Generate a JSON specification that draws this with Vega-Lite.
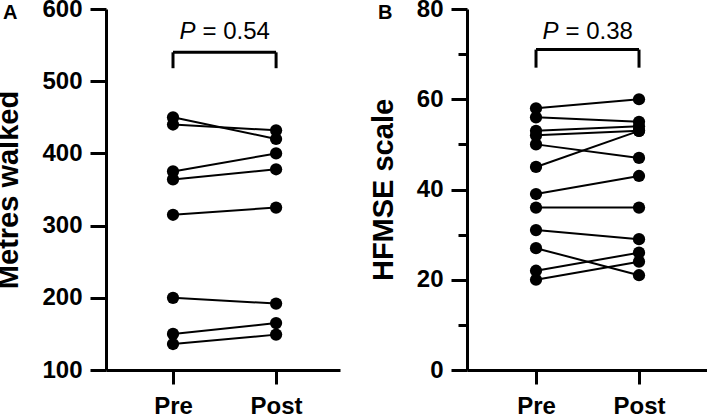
{
  "$schema": "https://vega.github.io/schema/vega-lite/v6.json",
  "padding": {"left": -6, "top": -3, "right": 0, "bottom": 0},
  "spacing": 29,
  "config": {
    "font": "Liberation Sans",
    "view": {"stroke": null},
    "axis": {
      "domainColor": "black",
      "domainWidth": 3,
      "tickColor": "black",
      "tickWidth": 3,
      "grid": false,
      "labelColor": "black",
      "labelFont": "Liberation Sans",
      "labelFontWeight": "bold",
      "labelFontSize": 24,
      "titleFont": "Liberation Sans",
      "titleFontWeight": "bold",
      "titleFontSize": 29,
      "titleColor": "black"
    }
  },
  "datasets": {
    "walk": [
      {"id": 1, "t": 1, "v": 450}, {"id": 1, "t": 2, "v": 420},
      {"id": 2, "t": 1, "v": 440}, {"id": 2, "t": 2, "v": 432},
      {"id": 3, "t": 1, "v": 375}, {"id": 3, "t": 2, "v": 400},
      {"id": 4, "t": 1, "v": 364}, {"id": 4, "t": 2, "v": 378},
      {"id": 5, "t": 1, "v": 315}, {"id": 5, "t": 2, "v": 325},
      {"id": 6, "t": 1, "v": 200}, {"id": 6, "t": 2, "v": 192},
      {"id": 7, "t": 1, "v": 150}, {"id": 7, "t": 2, "v": 165},
      {"id": 8, "t": 1, "v": 136}, {"id": 8, "t": 2, "v": 149}
    ],
    "hfmse": [
      {"id": 1, "t": 1, "v": 58}, {"id": 1, "t": 2, "v": 60},
      {"id": 2, "t": 1, "v": 56}, {"id": 2, "t": 2, "v": 55},
      {"id": 3, "t": 1, "v": 53}, {"id": 3, "t": 2, "v": 54},
      {"id": 4, "t": 1, "v": 52}, {"id": 4, "t": 2, "v": 53},
      {"id": 5, "t": 1, "v": 50}, {"id": 5, "t": 2, "v": 47},
      {"id": 6, "t": 1, "v": 45}, {"id": 6, "t": 2, "v": 53},
      {"id": 7, "t": 1, "v": 39}, {"id": 7, "t": 2, "v": 43},
      {"id": 8, "t": 1, "v": 36}, {"id": 8, "t": 2, "v": 36},
      {"id": 9, "t": 1, "v": 31}, {"id": 9, "t": 2, "v": 29},
      {"id": 10, "t": 1, "v": 27}, {"id": 10, "t": 2, "v": 21},
      {"id": 11, "t": 1, "v": 22}, {"id": 11, "t": 2, "v": 26},
      {"id": 12, "t": 1, "v": 20}, {"id": 12, "t": 2, "v": 24}
    ],
    "annA": [{"x1": 1, "x2": 2, "xm": 1.5, "top": 540, "bot": 518, "ty": 558, "p": "P", "txt": "= 0.54", "lx": 0.35, "ly": 600, "letter": "A"}],
    "annB": [{"x1": 1, "x2": 2, "xm": 1.5, "top": 71, "bot": 67, "ty": 73.4, "p": "P", "txt": "= 0.38", "lx": 0.33, "ly": 80, "letter": "B"}]
  },
  "hconcat": [
    {
      "width": 234,
      "height": 361,
      "layer": [
        {
          "data": {"name": "walk"},
          "mark": {"type": "line", "color": "black", "strokeWidth": 2},
          "encoding": {
            "x": {"field": "t", "type": "quantitative", "scale": {"domain": [0.35, 2.62], "nice": false},
              "axis": {"values": [1, 2], "title": null, "labelExpr": "datum.value == 1 ? 'Pre' : 'Post'", "tickSize": 14, "labelPadding": 10}},
            "y": {"field": "v", "type": "quantitative", "scale": {"domain": [100, 600], "nice": false},
              "axis": {"values": [100, 150, 200, 250, 300, 350, 400, 450, 500, 550, 600],
                "labelExpr": "datum.value % 100 === 0 ? datum.label : ''",
                "tickSize": 16,
                "tickDash": {"condition": {"test": "datum.value % 100 !== 0", "value": [9, 40]}, "value": []},
                "title": "Metres walked", "labelPadding": 8, "titlePadding": 18}},
            "detail": {"field": "id"}
          }
        },
        {
          "data": {"name": "walk"},
          "mark": {"type": "circle", "color": "black", "opacity": 1, "size": 150},
          "encoding": {
            "x": {"field": "t", "type": "quantitative"},
            "y": {"field": "v", "type": "quantitative"}
          }
        },
        {
          "data": {"name": "annA"},
          "mark": {"type": "rule", "color": "black", "strokeWidth": 3},
          "encoding": {
            "x": {"field": "x1", "type": "quantitative"},
            "x2": {"field": "x2"},
            "y": {"field": "top", "type": "quantitative"}
          }
        },
        {
          "data": {"name": "annA"},
          "mark": {"type": "rule", "color": "black", "strokeWidth": 3},
          "encoding": {
            "x": {"field": "x1", "type": "quantitative"},
            "y": {"field": "top", "type": "quantitative"},
            "y2": {"field": "bot"}
          }
        },
        {
          "data": {"name": "annA"},
          "mark": {"type": "rule", "color": "black", "strokeWidth": 3},
          "encoding": {
            "x": {"field": "x2", "type": "quantitative"},
            "y": {"field": "top", "type": "quantitative"},
            "y2": {"field": "bot"}
          }
        },
        {
          "data": {"name": "annA"},
          "mark": {"type": "text", "fontSize": 24, "fontStyle": "italic", "align": "left", "baseline": "alphabetic", "dx": -45, "color": "black"},
          "encoding": {
            "x": {"field": "xm", "type": "quantitative"},
            "y": {"field": "ty", "type": "quantitative"},
            "text": {"field": "p"}
          }
        },
        {
          "data": {"name": "annA"},
          "mark": {"type": "text", "fontSize": 24, "align": "left", "baseline": "alphabetic", "dx": -22, "color": "black"},
          "encoding": {
            "x": {"field": "xm", "type": "quantitative"},
            "y": {"field": "ty", "type": "quantitative"},
            "text": {"field": "txt"}
          }
        },
        {
          "data": {"name": "annA"},
          "mark": {"type": "text", "fontSize": 20, "fontWeight": "bold", "align": "left", "baseline": "alphabetic", "dx": -103, "dy": 10, "color": "black"},
          "encoding": {
            "x": {"field": "lx", "type": "quantitative"},
            "y": {"field": "ly", "type": "quantitative"},
            "text": {"field": "letter"}
          }
        }
      ]
    },
    {
      "width": 240,
      "height": 361,
      "layer": [
        {
          "data": {"name": "hfmse"},
          "mark": {"type": "line", "color": "black", "strokeWidth": 2},
          "encoding": {
            "x": {"field": "t", "type": "quantitative", "scale": {"domain": [0.33, 2.66], "nice": false},
              "axis": {"values": [1, 2], "title": null, "labelExpr": "datum.value == 1 ? 'Pre' : 'Post'", "tickSize": 14, "labelPadding": 10}},
            "y": {"field": "v", "type": "quantitative", "scale": {"domain": [0, 80], "nice": false},
              "axis": {"values": [0, 10, 20, 30, 40, 50, 60, 70, 80],
                "labelExpr": "datum.value % 20 === 0 ? datum.label : ''",
                "tickSize": 16,
                "tickDash": {"condition": {"test": "datum.value % 20 !== 0", "value": [9, 40]}, "value": []},
                "title": "HFMSE scale", "labelPadding": 8, "titlePadding": 18}},
            "detail": {"field": "id"}
          }
        },
        {
          "data": {"name": "hfmse"},
          "mark": {"type": "circle", "color": "black", "opacity": 1, "size": 150},
          "encoding": {
            "x": {"field": "t", "type": "quantitative"},
            "y": {"field": "v", "type": "quantitative"}
          }
        },
        {
          "data": {"name": "annB"},
          "mark": {"type": "rule", "color": "black", "strokeWidth": 3},
          "encoding": {
            "x": {"field": "x1", "type": "quantitative"},
            "x2": {"field": "x2"},
            "y": {"field": "top", "type": "quantitative"}
          }
        },
        {
          "data": {"name": "annB"},
          "mark": {"type": "rule", "color": "black", "strokeWidth": 3},
          "encoding": {
            "x": {"field": "x1", "type": "quantitative"},
            "y": {"field": "top", "type": "quantitative"},
            "y2": {"field": "bot"}
          }
        },
        {
          "data": {"name": "annB"},
          "mark": {"type": "rule", "color": "black", "strokeWidth": 3},
          "encoding": {
            "x": {"field": "x2", "type": "quantitative"},
            "y": {"field": "top", "type": "quantitative"},
            "y2": {"field": "bot"}
          }
        },
        {
          "data": {"name": "annB"},
          "mark": {"type": "text", "fontSize": 24, "fontStyle": "italic", "align": "left", "baseline": "alphabetic", "dx": -45, "color": "black"},
          "encoding": {
            "x": {"field": "xm", "type": "quantitative"},
            "y": {"field": "ty", "type": "quantitative"},
            "text": {"field": "p"}
          }
        },
        {
          "data": {"name": "annB"},
          "mark": {"type": "text", "fontSize": 24, "align": "left", "baseline": "alphabetic", "dx": -22, "color": "black"},
          "encoding": {
            "x": {"field": "xm", "type": "quantitative"},
            "y": {"field": "ty", "type": "quantitative"},
            "text": {"field": "txt"}
          }
        },
        {
          "data": {"name": "annB"},
          "mark": {"type": "text", "fontSize": 20, "fontWeight": "bold", "align": "left", "baseline": "alphabetic", "dx": -89, "dy": 10, "color": "black"},
          "encoding": {
            "x": {"field": "lx", "type": "quantitative"},
            "y": {"field": "ly", "type": "quantitative"},
            "text": {"field": "letter"}
          }
        }
      ]
    }
  ]
}
